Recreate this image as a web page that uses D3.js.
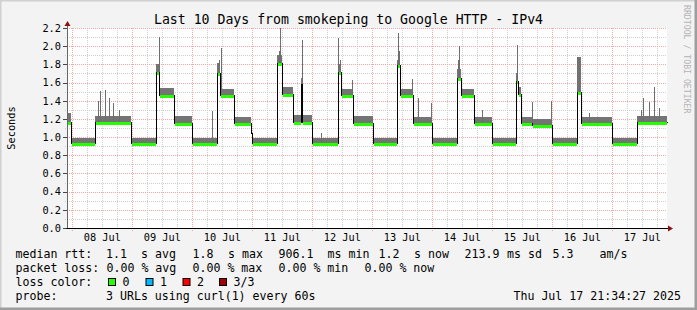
<!DOCTYPE html>
<html>
<head>
<meta charset="utf-8">
<script src="https://cdn.jsdelivr.net/npm/d3@7"></script>
<style>
  body { margin: 0; background: #f3f3f3; }
  text { font-family: "DejaVu Sans Mono", monospace; fill: #000; white-space: pre; }
</style>
</head>
<body>
<svg id="chart" width="697" height="310"></svg>
<script>
// Median rtt level segments, hours counted from 08 Jul 00:00 (each runs until the next one starts)
const segHour = [-2.2, -0.5, 9.2, 23.5, 33.5, 34.6, 40.8, 47.8, 57.8, 59.2, 64.8, 71.6, 72.0, 81.8, 83.8, 88.1, 91.5, 92.0, 95.8, 106.1,
                 107.4, 112.4, 120.4, 129.9, 131.2, 136.4, 143.9, 153.8, 155.4, 160.8, 167.8, 177.5, 178.2, 179.5, 184.0, 191.8, 201.8, 203.5, 215.8, 225.8];
const segMedian = [1.17, 0.93, 1.17, 0.93, 1.72, 1.46, 1.16, 0.93, 1.70, 1.46, 1.15, 1.05, 0.93, 1.82, 1.47, 1.17, 1.58, 1.17, 0.93, 1.72,
                   1.46, 1.15, 0.93, 1.79, 1.46, 1.15, 0.93, 1.65, 1.46, 1.15, 0.93, 1.62, 1.47, 1.15, 1.13, 0.93, 1.50, 1.15, 0.93, 1.17];
// top of the smoke (slowest ping) for each segment
const segTop = [1.26, 0.99, 1.23, 0.99, 1.80, 1.54, 1.23, 0.99, 1.82, 1.53, 1.22, 1.08, 0.99, 1.90, 1.55, 1.24, 1.65, 1.24, 0.99, 1.80,
                1.53, 1.23, 0.99, 1.85, 1.53, 1.22, 0.99, 1.75, 1.53, 1.22, 0.99, 1.70, 1.55, 1.22, 1.20, 0.99, 1.88, 1.22, 0.99, 1.23];

// single slow pings sticking out of the smoke
const spikeHour = [10.2, 11.2, 13.2, 14.8, 16.2, 18.5, 34.6, 55.8, 58.8, 59.5, 82.5, 83.1, 91.8, 99.5, 106.4, 107.0, 111.8, 130.2,
                   130.8, 136.0, 138.2, 143.5, 154.3, 154.8, 164.0, 177.8, 183.9, 191.5, 202.0, 202.5, 206.8, 227.6, 228.2, 230.8, 232.8, 234.5];
const spikeTop = [1.40, 1.51, 1.52, 1.43, 1.37, 1.30, 2.10, 1.29, 1.85, 1.98, 1.95, 2.20, 2.07, 1.05, 2.09, 1.85, 1.63, 2.14,
                  1.95, 1.64, 1.43, 1.37, 1.85, 2.00, 1.30, 2.01, 1.39, 1.40, 1.88, 1.86, 1.26, 1.30, 1.43, 1.39, 1.55, 1.32];

const yTicks = [0.0, 0.2, 0.4, 0.6, 0.8, 1.0, 1.2, 1.4, 1.6, 1.8, 2.0, 2.2];

const legendRtt = [["median rtt:", 15.5], ["1.1", 106], ["s avg", 141], ["1.8", 192.5], ["s max", 228], ["906.1", 278.5],
                   ["ms min", 327.5], ["1.2", 378.5], ["s now", 414], ["213.9", 464.5], ["ms sd", 507], ["5.3", 552.5], ["am/s", 599.5]];
const legendLoss = [["packet loss:", 15.5], ["0.00 % avg", 106.5], ["0.00 % max", 192.5], ["0.00 % min", 278.5], ["0.00 % now", 364.5]];
const lossColors = ["#26ff00", "#00b8ff", "#ff0000", "#a10000"];
const lossLabels = ["0", "1", "2", "3/3"];

const W = 697, H = 310;
const pL = 67, pR = 667, pT = 28, pB = 228;
const t0 = Date.UTC(2025, 6, 8);
const hourDate = h => new Date(t0 + h * 3600e3);
const tStart = hourDate(-2.12), tEnd = hourDate(240 - 2.12);

const svg = d3.select("#chart");

// frame
svg.append("rect").attr("width", W).attr("height", H).attr("fill", "#f3f3f3");
svg.append("path").attr("d", `M0,${H} V0 H${W}`).attr("stroke", "#d0d0d0").attr("stroke-width", 3).attr("fill", "none");
svg.append("path").attr("d", `M0,${H - 1} H${W - 1} V0`).attr("stroke", "#9e9e9e").attr("stroke-width", 3).attr("fill", "none");

const x = d3.scaleUtc().domain([tStart, tEnd]).range([pL, pR]);
const y = d3.scaleLinear().domain([0, 2.2]).range([pB, pT]);

svg.append("rect").attr("x", pL).attr("y", pT).attr("width", pR - pL).attr("height", pB - pT).attr("fill", "#fff");

const px = v => Math.round(v) + 0.5;

// minor grid: every 6 hours and every 0.1 s
const grid = svg.append("g").attr("shape-rendering", "crispEdges").attr("fill", "none");
grid.selectAll(".vmin")
    .data(x.ticks(d3.utcHour.every(6)).filter(d => d.getUTCHours() !== 0))
    .join("line")
    .attr("x1", d => px(x(d))).attr("x2", d => px(x(d)))
    .attr("y1", pT).attr("y2", pB + 2)
    .attr("stroke", "#cfcfcf").attr("stroke-dasharray", "1,1");
grid.selectAll(".hmin")
    .data(d3.range(1, 22, 2).map(i => i / 10))
    .join("line")
    .attr("x1", pL - 2).attr("x2", pR)
    .attr("y1", d => px(y(d))).attr("y2", d => px(y(d)))
    .attr("stroke", "#cfcfcf").attr("stroke-dasharray", "1,1");

// major grid: days and labelled values
grid.selectAll(".vmaj")
    .data(x.ticks(d3.utcDay.every(1)))
    .join("line")
    .attr("x1", d => px(x(d))).attr("x2", d => px(x(d)))
    .attr("y1", pT).attr("y2", pB + 4)
    .attr("stroke", "#f0a8a8").attr("stroke-dasharray", "1,1");
grid.selectAll(".hmaj")
    .data(yTicks.slice(1))
    .join("line")
    .attr("x1", pL).attr("x2", pR)
    .attr("y1", d => px(y(d))).attr("y2", d => px(y(d)))
    .attr("stroke", "#f0a8a8").attr("stroke-dasharray", "1,1");
grid.selectAll(".ytick")
    .data(yTicks)
    .join("line")
    .attr("x1", pL - 4).attr("x2", pL)
    .attr("y1", d => px(y(d))).attr("y2", d => px(y(d)))
    .attr("stroke", "#444");

// smoke + median
const segs = segHour.map((h, i) => ({
    x0: x(hourDate(h)),
    x1: i + 1 < segHour.length ? x(hourDate(segHour[i + 1])) : pR,
    med: segMedian[i],
    top: segTop[i]
}));

const plot = svg.append("g").attr("shape-rendering", "crispEdges");
plot.selectAll(".smoke")
    .data(segs)
    .join("rect")
    .attr("x", d => Math.round(d.x0))
    .attr("width", d => Math.max(1, Math.round(d.x1) - Math.round(d.x0)))
    .attr("y", d => Math.round(y(d.top)))
    .attr("height", d => Math.round(y(d.med)) - Math.round(y(d.top)) + 1)
    .attr("fill", "#747474");

plot.selectAll(".spike")
    .data(spikeHour.map((h, i) => ({ h, v: spikeTop[i], base: segMedian[d3.bisectRight(segHour, h) - 1] })))
    .join("rect")
    .attr("x", d => Math.round(x(hourDate(d.h))))
    .attr("width", 1)
    .attr("y", d => Math.round(y(d.v)))
    .attr("height", d => Math.round(y(d.base)) - Math.round(y(d.v)))
    .attr("fill", "#6e6e6e");

const medLine = d3.line()
    .x(d => px(d[0]))
    .y(d => px(y(d[1])))
    .curve(d3.curveStepAfter);
plot.append("path")
    .datum(segs.map(d => [d.x0, d.med]).concat([[pR, segMedian[segMedian.length - 1]]]))
    .attr("d", medLine)
    .attr("fill", "none").attr("stroke", "#000").attr("stroke-width", 1);

plot.selectAll(".med")
    .data(segs.filter(d => d.x1 - d.x0 > 1.5))
    .join("line")
    .attr("x1", d => Math.round(d.x0) + 1).attr("x2", d => Math.round(d.x1))
    .attr("y1", d => Math.round(y(d.med)) + 1).attr("y2", d => Math.round(y(d.med)) + 1)
    .attr("stroke", lossColors[0]).attr("stroke-width", 3);

// axes
svg.append("line").attr("x1", pL - 0.5).attr("x2", pR + 2).attr("y1", pB + 0.5).attr("y2", pB + 0.5)
    .attr("stroke", "#000");
svg.append("line").attr("x1", pL + 0.5).attr("x2", pL + 0.5).attr("y1", pB).attr("y2", pT - 3)
    .attr("stroke", "#666");
svg.append("path").attr("d", `M${pL - 2.5},${pT - 2} L${pL + 0.5},${pT - 7} L${pL + 3.5},${pT - 2} Z`).attr("fill", "#8b1010");
svg.append("path").attr("d", `M${pR + 1},${pB - 2.5} L${pR + 6},${pB + 0.5} L${pR + 1},${pB + 3.5} Z`).attr("fill", "#8b1010");

// axis labels
svg.selectAll(".ylab")
    .data(yTicks)
    .join("text")
    .attr("x", pL - 6).attr("y", d => y(d) + 3.8)
    .attr("text-anchor", "end").attr("font-size", 10.3)
    .text(d => d3.format(".1f")(d));

svg.selectAll(".xlab")
    .data(x.ticks(d3.utcDay.every(1)))
    .join("text")
    .attr("x", d => x(d3.utcHour.offset(d, 12)))
    .attr("y", 241).attr("text-anchor", "middle").attr("font-size", 10.3)
    .text(d => d3.utcFormat("%d %b")(d));

svg.append("text")
    .attr("transform", `translate(14.5,${(pT + pB) / 2}) rotate(-90)`)
    .attr("text-anchor", "middle").attr("font-size", 10.3)
    .text("Seconds");

svg.append("text")
    .attr("x", 348.5).attr("y", 23.5).attr("text-anchor", "middle").attr("font-size", 13.2)
    .text("Last 10 Days from smokeping to Google HTTP - IPv4");

svg.append("text")
    .attr("transform", "translate(683.5,5) rotate(90)")
    .attr("font-size", 8.2).style("fill", "#b4b4b4")
    .text("RRDTOOL / TOBI OETIKER");

// legend
const leg = svg.append("g").attr("font-size", 11.6);
leg.selectAll(".rtt").data(legendRtt).join("text")
    .attr("x", d => d[1]).attr("y", 257.5).text(d => d[0]);
leg.selectAll(".loss").data(legendLoss).join("text")
    .attr("x", d => d[1]).attr("y", 271.5).text(d => d[0]);
leg.append("text").attr("x", 15.5).attr("y", 285.5).text("loss color:");
const boxX = [108.5, 146, 183, 219.5];
lossColors.forEach((c, i) => {
    leg.append("rect").attr("x", boxX[i]).attr("y", 278.5).attr("width", 7).attr("height", 7)
        .attr("fill", c).attr("stroke", "#000");
    leg.append("text").attr("x", boxX[i] + 14).attr("y", 285.5).text(lossLabels[i]);
});
leg.append("text").attr("x", 15.5).attr("y", 299.5).text("probe:");
leg.append("text").attr("x", 106).attr("y", 299.5).text("3 URLs using curl(1) every 60s");
leg.append("text").attr("x", 681).attr("y", 299.5).attr("text-anchor", "end").text("Thu Jul 17 21:34:27 2025");
</script>
</body>
</html>
